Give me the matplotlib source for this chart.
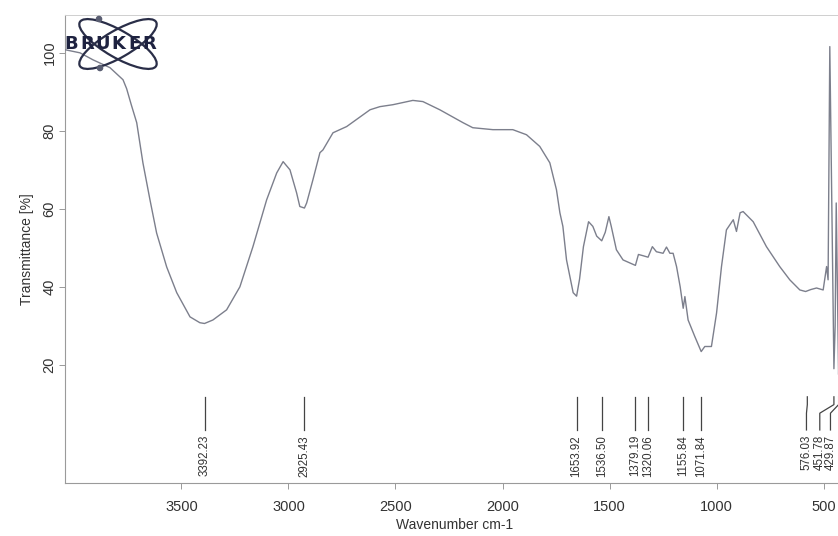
import matplotlib
matplotlib.use("Agg")
import matplotlib.pyplot as plt
from matplotlib.patches import Ellipse, Circle

plt.rcParams['font.family'] = ['Liberation Sans', 'DejaVu Sans']

# IR spectrum, read point by point (wavenumber in cm-1, transmittance in %)
wavenumber = [4044, 3974, 3913, 3834, 3773, 3756, 3735, 3709, 3680, 3647,
              3616, 3569, 3522, 3460, 3414, 3392.23, 3353, 3289, 3227, 3166,
              3102, 3055, 3025, 2993, 2962, 2947, 2925.43, 2915, 2886, 2853,
              2839, 2792, 2728, 2619, 2573, 2512, 2419, 2372, 2293, 2185,
              2139, 2045, 1952, 1888, 1826, 1779, 1748, 1732, 1718, 1701,
              1670, 1653.92, 1640, 1622, 1598, 1578, 1560, 1536.50, 1520, 1503,
              1492, 1468, 1437, 1400, 1379.19, 1365, 1345, 1320.06, 1300, 1281,
              1250, 1234, 1218, 1203, 1187, 1170, 1155.84, 1148, 1133, 1102,
              1071.84, 1055, 1024, 1000, 977, 954, 922, 907, 890, 876,
              829, 767, 705, 658, 611, 584, 560, 533, 502, 486,
              479, 471, 451.78, 446, 441, 429.87, 420, 400]
transmittance = [100.8, 100.0, 98.2, 96.2, 93.1, 90.8, 86.8, 82.1, 71.8, 62.3,
                 53.8, 45.1, 38.5, 32.3, 30.8, 30.6, 31.5, 34.1, 40.0, 50.3,
                 62.3, 69.2, 72.1, 70.0, 64.1, 60.6, 60.2, 61.5, 67.4, 74.4,
                 75.1, 79.5, 81.1, 85.4, 86.2, 86.7, 87.8, 87.5, 85.4, 82.1,
                 80.8, 80.3, 80.3, 79.0, 76.0, 71.8, 64.9, 59.0, 55.5, 46.9,
                 38.5, 37.6, 42.0, 50.3, 56.7, 55.5, 53.0, 51.8, 54.0, 58.0,
                 55.5, 49.5, 46.9, 46.0, 45.5, 48.3, 48.0, 47.6, 50.3, 49.0,
                 48.6, 50.2, 48.6, 48.6, 45.2, 40.0, 34.5, 37.5, 31.5, 27.3,
                 23.4, 24.7, 24.7, 33.3, 45.2, 54.6, 57.2, 54.2, 59.0, 59.3,
                 56.7, 50.3, 45.2, 41.8, 39.2, 38.8, 39.3, 39.7, 39.2, 45.2,
                 41.8, 101.6, 19.0, 30.0, 61.5, 17.5, 45.0, 50.0]

# picked peaks
peaks = [3392.23, 2925.43, 1653.92, 1536.50, 1379.19, 1320.06,
         1155.84, 1071.84, 576.03, 451.78, 429.87]

# crowded labels at the low end are pushed to the left
label_shift = {576.03: 4, 451.78: 66, 429.87: 38}

fig = plt.figure(figsize=(8.38, 5.36), dpi=100)
ax = fig.add_axes([65 / 838, 53 / 536, 780 / 838, 468 / 536])

ax.plot(wavenumber, transmittance, color='#7c7f8c', lw=1.0, zorder=3)

for p in peaks:
    tx = p + label_shift.get(p, 0)
    if tx != p:
        ax.plot([p, p, tx, tx], [11.8, 9.8, 7.6, 3.3], color='#444444', lw=0.9)
    else:
        ax.plot([p, p], [11.8, 3.3], color='#444444', lw=0.9)
    ax.text(tx, 2.0, f"{p:.2f}", rotation=90, ha='center', va='top',
            fontsize=8.3, color='#333333')

ax.set_xlim(4044, 400)
ax.set_ylim(-10.3, 109.7)
ax.set_xticks([3500, 3000, 2500, 2000, 1500, 1000, 500])
ax.set_yticks([20, 40, 60, 80, 100])
ax.tick_params(axis='both', direction='out', length=4, width=0.7,
               color='#999999', labelcolor='#333333', labelsize=10.5)
ax.tick_params(axis='x', pad=8)
ax.tick_params(axis='y', pad=2)
for lab in ax.get_yticklabels():
    lab.set_rotation(90)
    lab.set_va('center')
ax.set_xlabel('Wavenumber cm-1', fontsize=10, color='#333333', labelpad=3)
ax.set_ylabel('Transmittance [%]', fontsize=10, color='#333333', labelpad=6)

for side in ['left', 'bottom']:
    ax.spines[side].set_color('#9a9a9a')
    ax.spines[side].set_linewidth(0.8)
ax.spines['top'].set_color('#cfcfcf')
ax.spines['top'].set_linewidth(0.7)
ax.spines['right'].set_visible(False)

# logo in the top-left corner, drawn in pixel units
logo = fig.add_axes([0, 0, 1, 1], zorder=5)
logo.set_xlim(0, 838)
logo.set_ylim(536, 0)
logo.axis('off')
logo.patch.set_alpha(0)
for ang in (30, -30):
    logo.add_patch(Ellipse((118, 44), 88, 27, angle=ang, fill=False,
                           ec='#2a2e48', lw=1.6))
logo.add_patch(Circle((99, 19), 2.6, color='#5a5e72'))
logo.add_patch(Circle((100, 68), 2.6, color='#5a5e72'))
for i, ch in enumerate('BRUKER'):
    logo.text(63.5 + (i + 0.5) * 94.0 / 6, 44, ch, ha='center', va='center',
              fontsize=13, fontweight='bold', family='DejaVu Sans',
              color='#1e2240')

fig.savefig('out.png', dpi=100)
